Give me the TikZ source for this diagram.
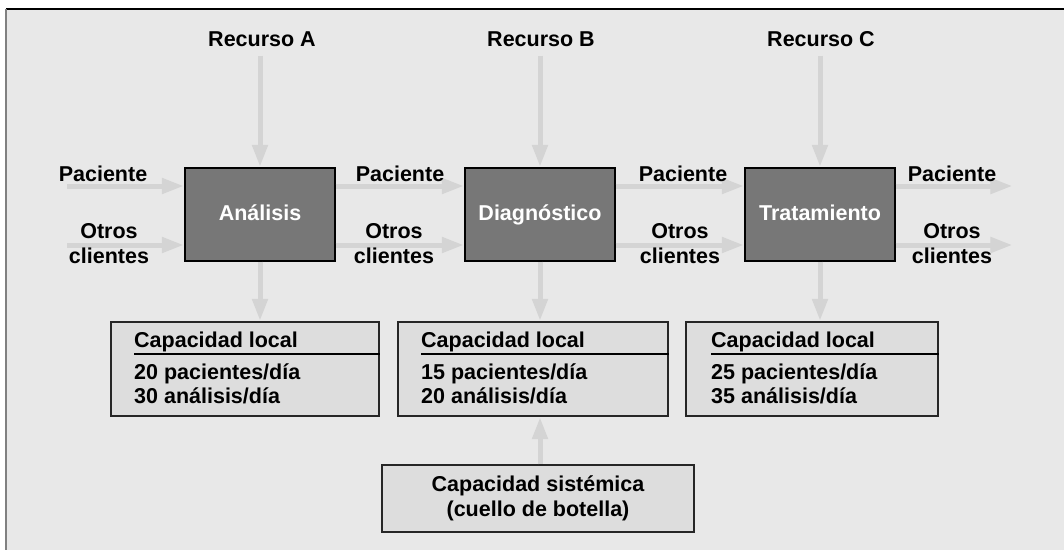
\documentclass[tikz,border=0pt]{standalone}
\usepackage{fontspec}
\setmainfont{Liberation Sans}
\usetikzlibrary{arrows.meta}
\definecolor{fondo}{HTML}{E8E8E8}
\definecolor{caja}{HTML}{777777}
\definecolor{flecha}{HTML}{D4D4D4}
\definecolor{capa}{HTML}{DDDDDD}
\begin{document}
\begin{tikzpicture}[x=1pt,y=-1pt,
  txt/.style={font=\fontsize{21.5}{25}\selectfont\bfseries,inner sep=0pt,align=center},
  proc/.style={draw=black,line width=1.2pt,fill=caja,minimum width=150pt,minimum height=93pt,
    inner sep=0pt,text=white,text height=15pt,text depth=4pt,font=\fontsize{21.5}{25}\selectfont\bfseries},
  capbox/.style={draw=black!85,line width=1.2pt,fill=capa,inner sep=0pt},
  flow/.style={draw=flecha,line width=5pt,-{Triangle[length=22pt,width=15pt]},shorten >=0.6pt}]
  \useasboundingbox (0,0) rectangle (1064,550);
  % fondo
  \fill[fondo] (6,9) rectangle (1064,550);
  \draw[black,line width=1.2pt] (6,9)--(1064,9);
  \draw[gray,line width=2pt] (6,9)--(6,550);

  % procesos
  \node[proc] (ana) at (260,214.5) {Análisis};
  \node[proc] (dia) at (540,214.5) {Diagnóstico};
  \node[proc] (tra) at (820,214.5) {Tratamiento};

  % recursos
  \node[txt] (recA) at (262,39) {Recurso A};
  \node[txt] (recB) at (541,39) {Recurso B};
  \node[txt] (recC) at (821,39) {Recurso C};
  \draw[flow] ([yshift=-9pt]recA.south -| ana.north) -- (ana.north);
  \draw[flow] ([yshift=-9pt]recB.south -| dia.north) -- (dia.north);
  \draw[flow] ([yshift=-9pt]recC.south -| tra.north) -- (tra.north);

  % flujos
  \coordinate (inP) at (67,186);
  \coordinate (inO) at (67,245);
  \coordinate (outP) at (1013,186);
  \coordinate (outO) at (1013,245);
  \draw[flow] (inP) -- (inP -| ana.west);
  \draw[flow] (inO) -- (inO -| ana.west);
  \draw[flow] ([yshift=28.5pt]ana.east) -- ([yshift=28.5pt]dia.west);
  \draw[flow] ([yshift=-30.5pt]ana.east) -- ([yshift=-30.5pt]dia.west);
  \draw[flow] ([yshift=28.5pt]dia.east) -- ([yshift=28.5pt]tra.west);
  \draw[flow] ([yshift=-30.5pt]dia.east) -- ([yshift=-30.5pt]tra.west);
  \draw[flow] (outP -| tra.east) -- (outP);
  \draw[flow] (outO -| tra.east) -- (outO);

  \node[txt,anchor=base] (pac0) at (103,181) {Paciente};
  \node[txt,anchor=base] (pac1) at (400,181) {Paciente};
  \node[txt,anchor=base] (pac2) at (683,181) {Paciente};
  \node[txt,anchor=base] (pac3) at (952,181) {Paciente};
  \node[txt] (otr0) at (109,244) {Otros\\clientes};
  \node[txt] (otr1) at (394,244) {Otros\\clientes};
  \node[txt] (otr2) at (680,244) {Otros\\clientes};
  \node[txt] (otr3) at (952,244) {Otros\\clientes};

  % capacidad local
  \node[capbox,minimum width=268pt,minimum height=94pt] (capA) at (245,369) {};
  \node[capbox,minimum width=270pt,minimum height=94pt] (capB) at (533,369) {};
  \node[capbox,minimum width=252pt,minimum height=94pt] (capC) at (812,369) {};
  \draw[flow] (ana.south) -- (ana.south |- capA.north);
  \draw[flow] (dia.south) -- (dia.south |- capB.north);
  \draw[flow] (tra.south) -- (tra.south |- capC.north);

  \node[txt,anchor=base west] (capAt) at (134,347) {Capacidad local};
  \node[txt,anchor=base west] (capA1) at (134,379) {20 pacientes/día};
  \node[txt,anchor=base west] (capA2) at (134,403) {30 análisis/día};
  \draw[line width=1.2pt] ([yshift=-7pt]capAt.base west) -- ([yshift=-7pt]capAt.base west -| capA.east);

  \node[txt,anchor=base west] (capBt) at (421,347) {Capacidad local};
  \node[txt,anchor=base west] (capB1) at (421,379) {15 pacientes/día};
  \node[txt,anchor=base west] (capB2) at (421,403) {20 análisis/día};
  \draw[line width=1.2pt] ([yshift=-7pt]capBt.base west) -- ([yshift=-7pt]capBt.base west -| capB.east);

  \node[txt,anchor=base west] (capCt) at (711,347) {Capacidad local};
  \node[txt,anchor=base west] (capC1) at (711,379) {25 pacientes/día};
  \node[txt,anchor=base west] (capC2) at (711,403) {35 análisis/día};
  \draw[line width=1.2pt] ([yshift=-7pt]capCt.base west) -- ([yshift=-7pt]capCt.base west -| capC.east);

  % capacidad sistemica
  \node[capbox,txt,minimum width=312pt,minimum height=67pt] (sis) at (538,498.5)
    {Capacidad sistémica\\(cuello de botella)};
  \draw[flow] (sis.north -| dia.south) -- (capB.south -| dia.south);
\end{tikzpicture}
\end{document}
